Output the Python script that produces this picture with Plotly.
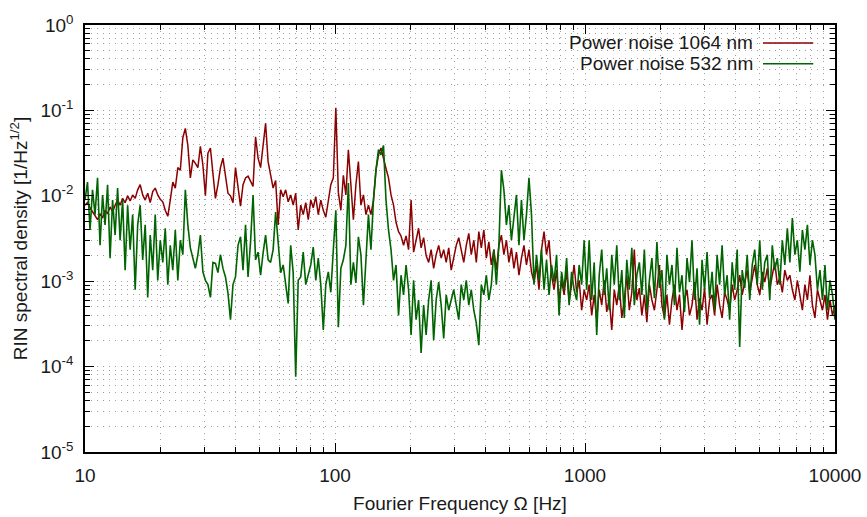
import numpy as np
import plotly.graph_objects as go

# Spectral densities, stored as log10(RIN [1/Hz^1/2])
# frequency bins are log-spaced from 10 Hz to 10 kHz
red_log10 = [
    -2.11, -2.08, -2.14, -2.19, -2.24, -2.28, -2.21, -2.26, -2.17, -2.21,
    -2.13, -2.19, -2.11, -2.05, -2.11, -2.03, -2.08, -2.00, -2.06, -1.99,
    -2.03, -1.93, -1.87, -1.99, -2.05, -1.97, -2.08, -1.95, -1.91, -1.99,
    -2.04, -2.07, -2.17, -2.24, -2.05, -1.84, -1.91, -1.67, -1.70, -1.32,
    -1.21, -1.41, -1.79, -1.58, -1.62, -1.67, -1.42, -1.64, -2.00, -1.50,
    -1.44, -1.70, -2.03, -1.87, -1.67, -1.56, -1.76, -1.97, -2.00, -2.08,
    -1.67, -1.91, -2.12, -1.87, -1.79, -1.77, -1.84, -1.89, -1.31, -1.56,
    -1.67, -1.41, -1.15, -1.60, -1.77, -1.91, -1.82, -2.34, -1.93, -2.01,
    -1.93, -2.07, -1.99, -2.11, -1.97, -2.40, -2.11, -2.22, -2.08, -2.28,
    -2.05, -2.14, -2.01, -2.22, -2.05, -2.17, -2.25, -2.05, -1.87, -1.79,
    -0.97, -1.96, -2.17, -1.76, -1.99, -1.46, -1.93, -2.28, -1.87, -1.60,
    -2.11, -1.99, -2.22, -2.11, -2.22, -2.05, -1.70, -1.52, -1.44, -1.57,
    -1.68, -1.79, -1.99, -2.11, -2.31, -2.42, -2.47, -2.58, -2.47, -2.63,
    -2.05, -2.66, -2.52, -2.38, -2.61, -2.49, -2.70, -2.78, -2.63, -2.85,
    -2.69, -2.58, -2.73, -2.63, -2.78, -2.61, -2.87, -2.73, -2.58, -2.49,
    -2.66, -2.78, -2.58, -2.44, -2.69, -2.52, -2.78, -2.42, -2.61, -2.40,
    -2.73, -2.54, -2.81, -2.63, -2.87, -2.58, -2.46, -2.69, -2.52, -2.78,
    -2.61, -2.85, -2.66, -2.93, -2.73, -2.58, -2.81, -2.63, -2.89, -3.01,
    -2.81, -3.10, -2.63, -2.42, -2.69, -2.52, -2.93, -3.10, -2.87, -3.22,
    -2.99, -3.16, -2.87, -3.24, -3.04, -2.81, -3.13, -2.99, -3.34, -3.10,
    -3.22, -3.04, -3.40, -3.16, -3.45, -3.10, -3.28, -2.99, -3.36, -3.20,
    -3.57, -3.10, -3.28, -3.04, -3.43, -3.22, -2.93, -3.34, -3.13, -2.63,
    -3.22, -3.08, -3.40, -3.16, -3.48, -3.04, -3.22, -3.34, -3.10, -2.81,
    -3.28, -3.43, -3.16, -3.51, -3.22, -3.04, -3.34, -3.16, -3.57, -3.22,
    -3.10, -3.40, -3.28, -3.01, -3.45, -3.20, -3.34, -3.08, -3.51, -3.22,
    -3.16, -3.40, -3.04, -3.28, -3.43, -3.13, -3.22, -3.34, -3.04, -3.22,
    -3.10, -2.93, -3.16, -2.99, -2.87, -3.13, -2.96, -2.81, -3.04, -3.16,
    -2.89, -3.01, -2.85, -3.10, -2.93, -2.78, -3.04, -2.96, -3.13, -2.87,
    -2.99, -2.93, -3.10, -3.22, -2.99, -3.16, -3.34, -3.04, -3.22, -2.93,
    -3.28, -3.43, -3.10, -3.22, -3.34, -3.16, -3.45, -3.22, -3.40, -3.28,
]

green_log10 = [
    -2.05, -1.84, -2.40, -1.93, -2.22, -1.79, -2.58, -1.99, -2.34, -1.87,
    -2.73, -2.05, -2.46, -1.91, -2.52,
    -2.05, -2.87, -2.11, -2.63, -2.22, -3.10, -2.34,
    -2.11, -2.75, -2.34, -3.19, -2.46, -2.87, -2.22, -2.99, -2.52,
    -2.78, -2.38, -3.04, -2.58, -2.87, -2.40, -2.99, -2.52, -2.69,
    -1.93, -2.34,
    -2.61, -2.73, -2.85, -2.69, -2.46, -2.89, -2.99, -3.04, -3.19, -2.78,
    -2.79, -2.90, -2.69, -2.85, -2.95, -3.14, -3.45, -3.04, -2.95, -2.58,
    -2.48, -2.87, -2.34, -2.95, -2.54, -1.99, -2.75, -2.66, -2.93, -2.67,
    -2.46, -2.75, -2.78, -2.63, -2.19, -2.54, -2.90, -2.81, -3.04, -3.26,
    -2.58, -2.90, -4.12, -2.99, -2.95, -2.66, -3.04, -2.93, -2.81, -2.60,
    -2.99, -2.73, -3.04, -3.57, -3.04, -2.89, -3.13, -2.63, -2.17, -3.54,
    -2.85, -2.75, -2.58, -1.85, -3.04, -2.78, -3.02, -2.48, -2.69, -3.28,
    -2.69, -2.22, -2.63, -2.05, -1.70, -1.46, -1.52, -1.41, -2.05, -2.40,
    -2.63, -2.99, -2.81, -3.40, -2.93, -3.16, -2.81, -3.10, -3.63, -2.99,
    -3.45, -3.22, -3.84, -3.28, -3.63, -3.22, -2.99, -3.69, -3.22, -3.01,
    -3.28, -3.67, -3.16, -3.34, -3.22, -3.10, -3.28, -3.45, -3.04, -3.22,
    -2.99, -3.28, -3.10, -3.34, -3.49, -3.75, -3.04, -3.16, -2.93, -3.22,
    -3.04, -2.63, -3.04, -2.58, -1.70, -1.93, -2.34, -2.11, -2.52, -2.28,
    -1.99, -2.58, -2.05, -2.52, -2.22, -1.79, -2.22, -3.04, -2.69, -2.99,
    -2.63, -3.10, -2.75, -3.16, -2.81, -3.01, -2.69, -3.40, -2.89, -3.10,
    -2.73, -3.28, -2.89, -3.10, -3.22, -2.81, -3.04, -2.52,
    -3.10, -2.52, -3.22, -2.78, -3.63, -2.93, -2.63, -3.16, -2.85, -3.34,
    -2.69, -3.04, -2.58, -3.22, -2.87, -3.43, -2.75, -3.10, -2.61, -3.28,
    -2.93, -2.78, -3.16, -2.63, -3.34, -2.99, -2.73, -3.20, -2.54, -3.08,
    -2.87, -3.45, -2.69, -3.04, -2.81, -3.28, -2.61, -3.13, -2.93, -3.36,
    -2.73, -3.01, -2.52, -3.22, -2.85, -3.51, -2.75, -3.10, -2.66, -3.20,
    -2.89, -3.34, -2.69, -3.04, -2.58, -3.16, -2.93, -3.45, -2.78, -3.10,
    -2.63, -3.77, -2.87, -3.08, -2.69, -3.22, -2.81,
    -2.63, -3.04, -2.52, -3.10, -2.78, -2.69, -3.22, -2.58, -2.87, -2.73,
    -3.04, -2.52, -2.81,
    -2.38, -2.78, -2.26, -2.69, -2.52, -2.89, -2.40, -2.63, -2.34, -2.81,
    -2.52,
    -2.69, -3.10, -2.87, -3.22, -2.81, -3.34, -2.99, -3.16, -3.45,
]

f_start, f_stop = 10.0, 10000.0
series_names = ["Power noise 1064 nm", "Power noise 532 nm"]
series_colors = ["#8b0000", "#006400"]

x_tick_vals = [10, 100, 1000, 10000]
x_tick_text = ["10", "100", "1000", "10000"]
y_tick_vals = [1e-5, 1e-4, 1e-3, 1e-2, 1e-1, 1e0]
y_tick_text = ["10<sup>-5</sup>", "10<sup>-4</sup>", "10<sup>-3</sup>",
               "10<sup>-2</sup>", "10<sup>-1</sup>", "10<sup>0</sup>"]

red_freq = np.geomspace(f_start, f_stop, len(red_log10))
green_freq = np.geomspace(f_start, f_stop, len(green_log10))
red_vals = np.power(10.0, np.array(red_log10))
green_vals = np.power(10.0, np.array(green_log10))

fig = go.Figure()
fig.add_trace(go.Scatter(x=red_freq, y=red_vals, mode="lines", name=series_names[0],
                         line=dict(color=series_colors[0], width=1.5)))
fig.add_trace(go.Scatter(x=green_freq, y=green_vals, mode="lines", name=series_names[1],
                         line=dict(color=series_colors[1], width=1.6)))

FONT = "Liberation Sans, Arial, sans-serif"
TXT = "#1a1a1a"
FS = 19
GRID = "#a0a0a0"
GDASH = "1px,5px"

x_minor = [m * d for d in (10, 100, 1000) for m in range(2, 10)]
y_minor = [m * d for d in (1e-5, 1e-4, 1e-3, 1e-2, 1e-1) for m in range(2, 10)]

common = dict(
    ticks="inside", ticklen=9, tickwidth=1, tickcolor="black",
    showline=True, linecolor="black", linewidth=1.5, mirror="ticks",
    showgrid=True, gridcolor=GRID, griddash=GDASH, gridwidth=1,
    zeroline=False, tickfont=dict(family=FONT, size=FS, color=TXT),
    automargin=False,
)

fig.update_xaxes(
    type="log", range=[1, 4], tickmode="array", tickvals=x_tick_vals, ticktext=x_tick_text,
    minor=dict(tickmode="array", tickvals=x_minor, ticks="inside", ticklen=5,
               tickcolor="black", showgrid=True, gridcolor=GRID, griddash=GDASH),
    title=dict(text="Fourier Frequency Ω [Hz]", font=dict(family=FONT, size=FS, color=TXT),
               standoff=12),
    ticklabelstandoff=5,
    **common,
)
fig.update_yaxes(
    type="log", range=[-5, 0], tickmode="array", tickvals=y_tick_vals, ticktext=y_tick_text,
    minor=dict(tickmode="array", tickvals=y_minor, ticks="inside", ticklen=5,
               tickcolor="black", showgrid=True, gridcolor=GRID, griddash=GDASH),
    title=dict(text="RIN spectral density [1/Hz<sup>1/2</sup>]",
               font=dict(family=FONT, size=FS, color=TXT), standoff=8),
    ticklabelstandoff=6,
    **common,
)

# gnuplot-style key: text right-aligned, sample line on its right
legend_rows = [0.958, 0.909]
for name, color, yy in zip(series_names, series_colors, legend_rows):
    fig.add_annotation(xref="paper", yref="paper", x=0.893, y=yy, text=name,
                       showarrow=False, xanchor="right", yanchor="middle",
                       font=dict(family=FONT, size=FS, color=TXT))
    fig.add_shape(type="line", xref="paper", yref="paper", x0=0.904, x1=0.971,
                  y0=yy, y1=yy, line=dict(color=color, width=1.5))

fig.update_layout(
    width=867, height=517,
    margin=dict(l=85, r=32, t=25, b=65),
    paper_bgcolor="white", plot_bgcolor="white",
    showlegend=False,
    font=dict(family=FONT, size=FS, color=TXT),
)

fig.write_html("out.html")
